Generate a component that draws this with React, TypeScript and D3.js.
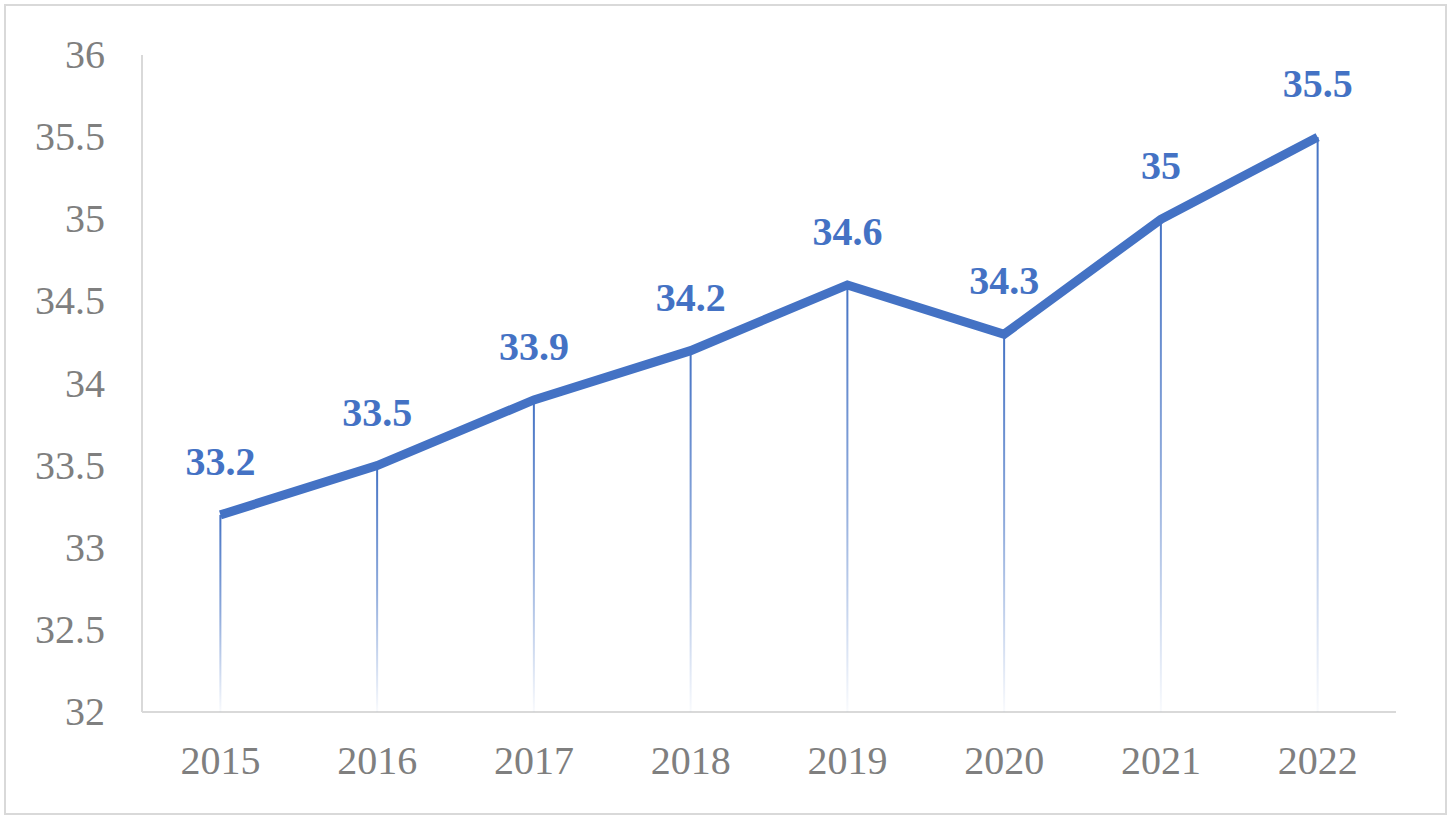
import React from "react";
import * as d3 from "d3";

const years = ["2015", "2016", "2017", "2018", "2019", "2020", "2021", "2022"];
const values = [33.2, 33.5, 33.9, 34.2, 34.6, 34.3, 35.0, 35.5];
const yTicks = [32, 32.5, 33, 33.5, 34, 34.5, 35, 35.5, 36];

const W = 1452;
const H = 820;
const left = 142;
const right = 1396;
const top = 55;
const bottom = 712;
const BLUE = "#4472C4";
const GREY = "#7f7f7f";

export default function App() {
  const x = d3.scaleBand<string>().domain(years).range([left, right]).padding(0);
  const y = d3.scaleLinear().domain([32, 36]).range([bottom, top]);
  const cx = (d: string) => (x(d) as number) + x.bandwidth() / 2;
  const line = d3
    .line<number>()
    .x((_, i) => cx(years[i]))
    .y((v) => y(v))
    .curve(d3.curveLinear);

  return (
    <div style={{ position: "absolute", left: 0, top: 0 }}>
      <svg width={W} height={H} style={{ display: "block", background: "#fff" }}>
        <defs>
          <linearGradient id="drop" x1="0" y1="0" x2="0" y2="1">
            <stop offset="0" stopColor={BLUE} stopOpacity={1} />
            <stop offset="0.5" stopColor={BLUE} stopOpacity={0.6} />
            <stop offset="1" stopColor={BLUE} stopOpacity={0.03} />
          </linearGradient>
        </defs>
        <rect x={5} y={5} width={1441} height={809} fill="#fff" stroke="#d9d9d9" strokeWidth={2} />
        {/* axes */}
        <line x1={left} x2={left} y1={top} y2={bottom} stroke="#d9d9d9" strokeWidth={2} />
        <line x1={left} x2={right} y1={bottom} y2={bottom} stroke="#d9d9d9" strokeWidth={2} />
        {/* y tick labels */}
        {yTicks.map((t) => (
          <text
            key={t}
            x={105}
            y={y(t) + 13}
            textAnchor="end"
            fontFamily="'Liberation Serif', 'Times New Roman', serif"
            fontSize={40}
            fill={GREY}
          >
            {String(t)}
          </text>
        ))}
        {/* x tick labels */}
        {years.map((yr) => (
          <text
            key={yr}
            x={cx(yr)}
            y={774}
            textAnchor="middle"
            fontFamily="'Liberation Serif', 'Times New Roman', serif"
            fontSize={40}
            fill={GREY}
          >
            {yr}
          </text>
        ))}
        {/* drop lines */}
        {values.map((v, i) => (
          <rect
            key={years[i]}
            x={cx(years[i]) - 1}
            y={y(v)}
            width={2}
            height={bottom - y(v)}
            fill="url(#drop)"
          />
        ))}
        {/* main line */}
        <path d={line(values) || ""} fill="none" stroke={BLUE} strokeWidth={9} strokeLinejoin="miter" />
        {/* data labels */}
        {values.map((v, i) => (
          <text
            key={"l" + years[i]}
            x={cx(years[i])}
            y={y(v) - 40}
            textAnchor="middle"
            fontFamily="'Liberation Serif', 'Times New Roman', serif"
            fontWeight="bold"
            fontSize={40}
            fill={BLUE}
          >
            {String(v)}
          </text>
        ))}
      </svg>
    </div>
  );
}
